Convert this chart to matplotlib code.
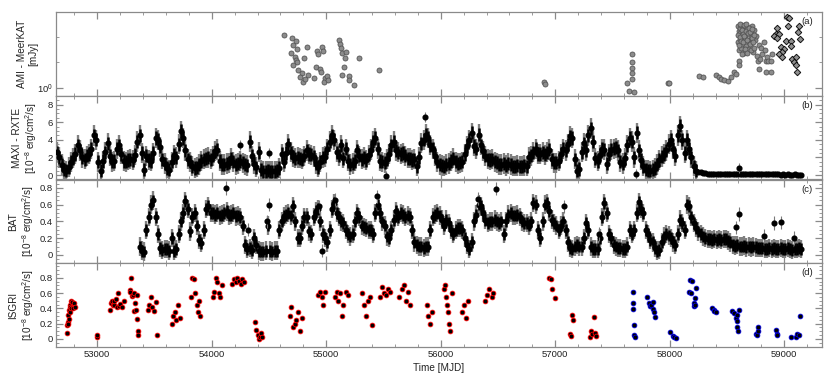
import numpy as np
import matplotlib
matplotlib.use('Agg')
import matplotlib.pyplot as plt
from matplotlib.ticker import MultipleLocator, FixedLocator, NullFormatter, FixedFormatter

plt.rcParams['font.family'] = ['Liberation Sans', 'DejaVu Sans']
plt.rcParams['mathtext.fontset'] = 'custom'
plt.rcParams['mathtext.rm'] = 'Liberation Sans'
plt.rcParams['mathtext.it'] = 'Liberation Sans:italic'
plt.rcParams['mathtext.bf'] = 'Liberation Sans:bold'

# ---------------- data ----------------
# (a) AMI radio flux [mJy]
ami_t = [54631, 54700, 54733, 54707, 54741, 54694, 54727, 54735, 54741, 54712, 54756, 54785, 54770,
         54799, 54814, 54843, 54831, 54805, 54916, 54930, 54965, 54968, 54910, 54947, 54951, 54895,
         54988, 55008, 54980, 55017, 55112, 55119, 55125, 55134, 55171, 55160, 55151, 55137, 55198,
         55200, 55244, 55285, 55459, 56905, 56908,
         57628, 57642, 57674, 57674, 57674, 57674, 57671, 57691, 57982, 57997, 58259, 58288,
         58404, 58427, 58447, 58476, 58505, 58534, 58564, 58578, 58602, 58602,
         58595, 58600, 58603, 58606, 58610, 58614, 58618, 58622, 58626, 58630, 58635, 58640, 58645,
         58650, 58655, 58660, 58665, 58670, 58676, 58682, 58688, 58694, 58700, 58706, 58712, 58718,
         58724, 58730, 58736, 58742, 58750, 58760, 58770, 58776, 58780, 58790, 58800, 58810, 58820,
         58830, 58837, 58842, 58850, 58860, 58883, 58883, 58897,
         58598, 58604, 58612, 58616, 58624, 58628, 58633, 58638, 58643, 58648, 58652, 58658, 58663,
         58668, 58673, 58679, 58685, 58691, 58697, 58703, 58709, 58715, 58721, 58727, 58733, 58739]
ami_v = [4.25, 3.88, 3.61, 3.25, 2.89, 2.60, 2.31, 2.15, 2.02, 1.85, 1.62, 1.48, 1.35,
         1.18, 1.26, 1.42, 3.03, 2.25, 2.77, 2.53, 3.03, 2.77, 1.77, 1.69, 1.52, 1.32,
         1.30, 1.38, 1.18, 1.24, 3.68, 3.31, 2.97, 2.60, 2.64, 2.25, 1.77, 1.42, 1.38,
         1.24, 1.08, 2.25, 1.62, 1.17, 1.10,
         1.13, 0.91, 2.53, 2.02, 1.72, 1.48, 1.27, 0.88, 1.13, 1.13, 1.38, 1.33,
         1.43, 1.35, 1.26, 1.24, 1.21, 1.33, 1.55, 1.45, 2.10, 1.85,
         3.5, 5.5, 4.8, 2.8, 5.2, 3.8, 4.5, 3.0, 5.6, 4.2, 3.3, 5.0, 4.6,
         2.6, 5.4, 3.9, 4.4, 3.1, 5.3, 4.7, 3.6, 2.9, 5.1, 4.0, 3.4, 5.5,
         4.3, 2.7, 4.9, 3.7, 4.1, 2.4, 2.1, 1.69, 3.2, 2.2, 3.0, 2.5, 3.5,
         2.8, 1.55, 2.1, 2.3, 2.1, 2.1, 1.55, 2.53,
         4.2, 3.2, 4.0, 5.8, 3.6, 4.9, 2.5, 4.4, 3.5, 5.6, 4.1, 2.9, 4.8,
         5.7, 3.7, 2.6, 4.5, 5.2, 3.3, 4.6, 2.8, 3.9, 5.0, 3.5, 4.2, 3.0]
# (a) MeerKAT radio flux [mJy]
mkat_t = [59028, 59043, 59037, 58941, 58927, 58956, 58912, 58941, 59014, 59058, 58971, 59000, 58985,
          58956, 58979, 59072, 59101, 59087, 59101, 59116, 59130, 59124, 59137, 59058]
mkat_v = [7.05, 6.75, 5.40, 5.17, 4.33, 4.33, 4.13, 3.89, 3.61, 3.61, 3.02, 2.89, 2.64,
          2.53, 2.31, 2.21, 2.31, 2.02, 1.85, 1.55, 5.40, 4.65, 3.78, 3.16]

# (b) MAXI / RXTE flux [1e-8 erg/cm2/s], 20-day bins from MJD 52650
maxi_start = 52650
maxi_step = 20
maxi_flux = [2.6, 2.0, 1.2, 0.6, 0.5, 0.9, 1.5, 1.9, 2.4, 3.4,
             2.8, 2.0, 1.8, 2.2, 2.4, 3.0, 4.5, 4.0, 1.5, 0.5,
             1.6, 2.6, 3.6, 2.2, 1.5, 1.6, 3.0, 3.4, 2.4, 1.6,
             1.5, 1.7, 1.8, 1.7, 2.3, 3.8, 4.5, 2.5, 0.6, 2.2,
             1.7, 1.6, 2.5, 4.2, 4.0, 3.2, 1.8, 1.3, 0.8, 0.6,
             1.5, 2.3, 2.0, 3.5, 5.0, 4.2, 2.8, 1.8, 1.5, 1.0,
             0.8, 0.9, 1.2, 1.6, 1.8, 1.9, 2.0, 1.8, 2.2, 2.7,
             2.9, 1.6, 1.2, 1.2, 1.3, 1.4, 1.9, 1.5, 1.2, 1.3,
             1.6, 1.4, 1.2, 1.1, 3.8, 2.2, 1.3, 0.9, 2.6, 0.6,
             0.45, 0.45, 0.5, 0.45, 0.45, 0.45, 0.5, 0.8, 2.4, 1.5,
             2.5, 3.5, 2.6, 2.1, 1.9, 2.0, 1.9, 1.8, 2.2, 2.8,
             2.4, 2.3, 2.1, 1.3, 0.9, 1.5, 2.0, 2.1, 3.0, 3.8,
             4.5, 4.0, 2.6, 2.2, 3.4, 1.9, 3.0, 1.6, 1.2, 1.3,
             1.6, 2.8, 2.2, 1.8, 2.0, 1.7, 2.3, 2.9, 3.8, 4.2,
             3.0, 1.6, 1.5, 1.4, 1.8, 2.4, 3.4, 3.8, 2.8, 2.6,
             2.4, 2.5, 2.2, 1.9, 1.9, 1.7, 1.8, 1.0, 2.0, 3.6,
             4.0, 4.6, 4.2, 3.4, 3.0, 2.2, 1.5, 1.2, 1.1, 1.0,
             1.2, 1.3, 1.6, 1.9, 1.5, 1.3, 1.4, 1.5, 2.4, 3.3,
             4.0, 4.8, 3.3, 3.0, 4.6, 3.4, 2.7, 2.2, 1.8, 1.7,
             1.8, 1.5, 1.4, 1.2, 1.2, 1.3, 1.1, 1.3, 1.2, 1.0,
             1.0, 1.1, 1.0, 1.0, 1.1, 1.0, 2.0, 2.2, 2.6, 3.0,
             2.4, 2.4, 2.6, 2.3, 2.6, 2.9, 1.8, 1.4, 1.4, 1.6,
             2.4, 3.0, 2.8, 3.5, 4.4, 4.2, 1.8, 0.5, 0.7, 2.6,
             3.6, 2.8, 4.5, 5.3, 3.8, 1.9, 1.6, 2.3, 3.0, 2.9,
             1.3, 2.4, 2.9, 3.0, 3.1, 2.8, 1.5, 1.3, 1.9, 3.4,
             4.2, 3.8, 2.0, 4.8, 2.8, 1.7, 1.0, 0.6, 0.55, 0.5,
             0.6, 0.8, 1.2, 1.7, 2.1, 2.4, 2.8, 3.5, 4.0, 3.0,
             2.2, 4.5, 5.6, 4.0, 2.5, 4.0, 3.0, 2.0, 1.0, 0.5]
maxi_scatter = 0.75   # half-width of the dense point band
maxi_err = 1.15       # typical error bar
# faint tail (MAXI), 20-day bins from MJD 58250
tail_start = 58250
tail_flux = [0.35, 0.3, 0.25, 0.2, 0.15, 0.15, 0.14, 0.13, 0.13, 0.12,
             0.12, 0.12, 0.11, 0.12, 0.11, 0.1, 0.11, 0.1, 0.1, 0.1,
             0.1, 0.09, 0.1, 0.09, 0.09, 0.08, 0.09, 0.08, 0.08, 0.08,
             0.08, 0.07, 0.08, 0.07, 0.07, 0.07, 0.06, 0.07, 0.06, 0.07,
             0.06, 0.06, 0.07, 0.06, 0.05, 0.06]
tail_err = 0.05
maxi_out_t = [54250, 54497, 55523, 55866, 57706, 58607]
maxi_out_v = [3.4, 2.5, -0.1, 6.6, 0.1, 0.8]

# (c) BAT flux, 20-day bins from MJD 53370
bat_start = 53370
bat_step = 20
bat_flux = [0.1, 0.05, 0.04, 0.3, 0.45, 0.6, 0.65, 0.45, 0.25, 0.08,
            0.06, 0.07, 0.07, 0.05, 0.2, 0.05, 0.07, 0.25, 0.4, 0.5,
            0.64, 0.55, 0.28, 0.45, 0.5, 0.35, 0.18, 0.14, 0.3, 0.55,
            0.58, 0.5, 0.5, 0.48, 0.5, 0.47, 0.48, 0.5, 0.52, 0.47,
            0.48, 0.5, 0.46, 0.47, 0.45, 0.35, 0.12, 0.07, 0.08, 0.06,
            0.2, 0.12, 0.05, 0.04, 0.04, 0.05, 0.35, 0.05, 0.04, 0.05,
            0.05, 0.3, 0.4, 0.46, 0.48, 0.5, 0.47, 0.58, 0.4, 0.2,
            0.2, 0.35, 0.45, 0.45, 0.28, 0.25, 0.45, 0.52, 0.55, 0.4,
            0.25, 0.2, 0.15, 0.3, 0.55, 0.62, 0.5, 0.45, 0.4, 0.38,
            0.3, 0.25, 0.22, 0.25, 0.4, 0.5, 0.45, 0.35, 0.33, 0.32,
            0.3, 0.3, 0.25, 0.5, 0.6, 0.5, 0.4, 0.35, 0.22, 0.2,
            0.3, 0.42, 0.52, 0.45, 0.5, 0.48, 0.45, 0.47, 0.45, 0.3,
            0.15, 0.12, 0.1, 0.1, 0.08, 0.1, 0.1, 0.3, 0.45, 0.48,
            0.5, 0.47, 0.42, 0.35, 0.42, 0.38, 0.3, 0.25, 0.3, 0.32,
            0.32, 0.3, 0.2, 0.12, 0.07, 0.15, 0.4, 0.48, 0.6, 0.58,
            0.5, 0.42, 0.38, 0.4, 0.4, 0.42, 0.4, 0.38, 0.4, 0.25,
            0.4, 0.48, 0.5, 0.47, 0.47, 0.48, 0.45, 0.4, 0.38, 0.38,
            0.35, 0.4, 0.62, 0.6, 0.3, 0.2, 0.4, 0.6, 0.62, 0.52,
            0.42, 0.38, 0.35, 0.3, 0.35, 0.4, 0.3, 0.15, 0.08, 0.07,
            0.1, 0.12, 0.1, 0.1, 0.2, 0.38, 0.3, 0.1, 0.07, 0.07,
            0.07, 0.2, 0.45, 0.62, 0.5, 0.25, 0.2, 0.12, 0.1, 0.08,
            0.08, 0.07, 0.07, 0.1, 0.3, 0.25, 0.3, 0.5, 0.63, 0.55,
            0.5, 0.3, 0.25, 0.18, 0.15, 0.08, 0.05, 0.06, 0.15, 0.22,
            0.25, 0.23, 0.2, 0.15, 0.12, 0.25, 0.42, 0.38, 0.3, 0.6,
            0.58, 0.45, 0.38, 0.32, 0.28, 0.25, 0.22, 0.2, 0.19, 0.19,
            0.18, 0.19, 0.18, 0.19, 0.18, 0.19, 0.19, 0.17, 0.15, 0.12,
            0.11, 0.12, 0.1, 0.1, 0.11, 0.09, 0.1, 0.09, 0.1, 0.09,
            0.08, 0.08, 0.08, 0.07, 0.07, 0.08, 0.07, 0.08, 0.07, 0.07,
            0.08, 0.07, 0.07, 0.08, 0.07, 0.06, 0.07, 0.07, 0.08, 0.07]
bat_scatter = 0.07
bat_err = 0.11
bat_out_t = [54125, 54317, 54486, 54500, 54936, 54965, 55079, 55445, 56325, 56479, 57081,
             57385, 58578, 58607, 58825, 58910, 58971, 59087]
bat_out_v = [0.8, 0.3, 0.4, 0.6, 0.58, 0.05, 0.66, 0.7, 0.67, 0.79, 0.58,
             0.25, 0.33, 0.49, 0.23, 0.38, 0.39, 0.2]

# (d) ISGRI flux, before (red) and after (blue) MJD 57500
isgri_red_t = [52736, 52740, 52742, 52745, 52748, 52752, 52755, 52758, 52762, 52766, 52770, 52775,
               52780, 52790, 52800, 52806, 52994, 52998,
               53110, 53120, 53128, 53135, 53145, 53150, 53160, 53170, 53180, 53190, 53200, 53215, 53230,
               53282, 53290, 53294, 53300, 53310, 53317, 53320, 53331, 53340, 53346, 53351, 53355, 53360,
               53440, 53455, 53470, 53480, 53495, 53510, 53525,
               53650, 53665, 53680, 53690, 53705, 53720,
               53820, 53832, 53845, 53858, 53870, 53880, 53890, 53900,
               54010, 54022, 54035, 54048, 54060, 54075, 54090,
               54180, 54195, 54210, 54225, 54240, 54255, 54268, 54280,
               54380, 54390, 54400, 54410, 54420, 54430, 54440,
               54680, 54695, 54710, 54725, 54740, 54755, 54770, 54790,
               54930, 54945, 54960, 54975, 54990,
               55075, 55090, 55105, 55120, 55135, 55150, 55170, 55190,
               55310, 55330, 55350, 55365, 55380, 55400,
               55470, 55487, 55503, 55520, 55537, 55555,
               55640, 55658, 55676, 55694, 55712, 55730,
               55880, 55893, 55906, 55920,
               56025, 56035, 56045, 56055, 56065, 56075, 56085, 56095,
               56190, 56205, 56220, 56235,
               56385, 56405, 56425, 56445, 56460,
               56950, 56960, 56975, 56995,
               57125, 57135, 57143, 57151,
               57300, 57312, 57325, 57343, 57350, 57360]
isgri_red_v = [0.08, 0.18, 0.22, 0.20, 0.31, 0.26, 0.38, 0.35, 0.45, 0.42, 0.50, 0.41,
               0.48, 0.40, 0.47, 0.42, 0.03, 0.05,
               0.38, 0.47, 0.49, 0.45, 0.44, 0.50, 0.52, 0.42, 0.60, 0.43, 0.46, 0.42, 0.50,
               0.64, 0.62, 0.80, 0.56, 0.57, 0.36, 0.60, 0.47, 0.38, 0.57, 0.26, 0.10, 0.05,
               0.38, 0.45, 0.55, 0.42, 0.36, 0.48, 0.05,
               0.20, 0.30, 0.35, 0.25, 0.45, 0.28,
               0.55, 0.80, 0.78, 0.60, 0.45, 0.35, 0.50, 0.30,
               0.55, 0.62, 0.80, 0.75, 0.60, 0.55, 0.70,
               0.72, 0.78, 0.75, 0.80, 0.76, 0.72, 0.78, 0.74,
               0.22, 0.12, 0.05, 0.00, 0.03, 0.08, 0.02,
               0.30, 0.42, 0.15, 0.20, 0.25, 0.35, 0.10, 0.28,
               0.58, 0.62, 0.55, 0.45, 0.62,
               0.55, 0.62, 0.50, 0.60, 0.30, 0.45, 0.62, 0.58,
               0.60, 0.45, 0.30, 0.50, 0.55, 0.18,
               0.55, 0.68, 0.60, 0.58, 0.65, 0.62,
               0.55, 0.65, 0.70, 0.50, 0.62, 0.45,
               0.45, 0.30, 0.20, 0.35,
               0.65, 0.70, 0.55, 0.45, 0.35, 0.20, 0.10, 0.60,
               0.35, 0.45, 0.28, 0.50,
               0.50, 0.58, 0.65, 0.55, 0.60,
               0.80, 0.78, 0.65, 0.54,
               0.07, 0.04, 0.31, 0.25,
               0.03, 0.10, 0.06, 0.29, 0.08, 0.04]
isgri_blue_t = [57677, 57683, 57683, 57689, 57692, 57700,
                57799, 57823, 57829, 57837, 57852, 57858, 57866, 57875,
                58003, 58026, 58040, 58055,
                58172, 58177, 58186, 58194, 58208, 58215, 58220, 58223, 58229,
                58369, 58384, 58390, 58404,
                58543, 58564, 58578, 58584, 58584, 58587, 58596, 58602,
                58753, 58759, 58767, 58775,
                58927, 58933, 58941,
                59058, 59101, 59116, 59130, 59137]
isgri_blue_v = [0.62, 0.47, 0.39, 0.18, 0.05, 0.03,
                0.55, 0.47, 0.43, 0.44, 0.48, 0.39, 0.35, 0.29,
                0.09, 0.04, 0.02, 0.01,
                0.62, 0.77, 0.60, 0.76, 0.47, 0.43, 0.53, 0.45, 0.67,
                0.40, 0.38, 0.36, 0.35,
                0.36, 0.34, 0.27, 0.31, 0.23, 0.16, 0.11, 0.38,
                0.07, 0.05, 0.11, 0.15,
                0.12, 0.07, 0.05,
                0.03, 0.03, 0.06, 0.05, 0.30]

panel_tags = ['(a)', '(b)', '(c)', '(d)']
ylabels = ['AMI - MeerKAT\n[mJy]',
           'MAXI - RXTE\n[10$^{-8}$ erg/cm$^{2}$/s]',
           'BAT\n[10$^{-8}$ erg/cm$^{2}$/s]',
           'ISGRI\n[10$^{-8}$ erg/cm$^{2}$/s]']

# ---------------- figure ----------------
fig = plt.figure(figsize=(8.3, 3.81), dpi=100)
L = 56 / 830
W = (822 - 56) / 830
TOP = 1 - 12 / 381
H = 83.75 / 381
axes = [fig.add_axes([L, TOP - (i + 1) * H, W, H]) for i in range(4)]

SPC = '#8a8a8a'
for i, ax in enumerate(axes):
    for s in ax.spines.values():
        s.set_color(SPC)
        s.set_linewidth(0.9)
    ax.tick_params(which='both', direction='in', top=True, right=True, color=SPC,
                   labelsize=6.8, pad=2, labelcolor='#222222')
    ax.tick_params(which='major', length=5, width=0.9)
    ax.tick_params(which='minor', length=2.5, width=0.6)
    ax.set_xlim(52640, 59330)
    ax.xaxis.set_major_locator(MultipleLocator(1000))
    ax.xaxis.set_minor_locator(MultipleLocator(200))
    if i < 3:
        ax.tick_params(labelbottom=False)
    ax.text(0.988, 0.94, panel_tags[i], transform=ax.transAxes, ha='right', va='top',
            fontsize=6.8, color='#222222')
    ax.set_ylabel(ylabels[i], fontsize=7.2, linespacing=1.15, color='#222222')


def dense(ax, t, v, err, band, ms=3.4):
    # error bars (grey), dense point band (black) and markers
    ax.errorbar(t, v, yerr=err, fmt='none', ecolor='#808080', elinewidth=1.7, capsize=0, zorder=1)
    ax.errorbar(t, v, yerr=band, fmt='none', ecolor='#000000', elinewidth=1.8, capsize=0, zorder=2)
    ax.plot(t, v, 'o', ms=ms, color='k', zorder=3)


# (a)
ax = axes[0]
ax.set_yscale('log')
ax.plot(ami_t, ami_v, 'o', ms=3.6, mfc='#8c8c8c', mec='#555555', mew=0.6, zorder=2)
ax.plot(mkat_t, mkat_v, 'D', ms=3.3, mfc='#909090', mec='#111111', mew=0.7, zorder=3)
ax.set_ylim(0.8, 8.0)
ax.yaxis.set_major_locator(FixedLocator([1.0]))
ax.yaxis.set_major_formatter(FixedFormatter(['10$^{0}$']))
ax.yaxis.set_minor_locator(FixedLocator([2.0, 4.0]))
ax.yaxis.set_minor_formatter(NullFormatter())
ax.yaxis.set_label_coords(-0.023, 0.5)

# (b)
ax = axes[1]
mt = maxi_start + maxi_step * np.arange(len(maxi_flux))
tt = tail_start + maxi_step * np.arange(len(tail_flux))
dense(ax, mt, maxi_flux, maxi_err, maxi_scatter)
dense(ax, tt, tail_flux, tail_err, tail_err)
ax.errorbar(maxi_out_t, maxi_out_v, yerr=0.6, fmt='o', ms=3.4, color='k', ecolor='#7a7a7a',
            elinewidth=0.8, capsize=0, zorder=3)
ax.set_ylim(-0.5, 9.0)
ax.yaxis.set_major_locator(MultipleLocator(2))
ax.yaxis.set_minor_locator(MultipleLocator(0.5))
ax.yaxis.set_label_coords(-0.022, 0.5)

# (c)
ax = axes[2]
bt = bat_start + bat_step * np.arange(len(bat_flux))
dense(ax, bt, bat_flux, bat_err, bat_scatter)
ax.errorbar(bat_out_t, bat_out_v, yerr=0.08, fmt='o', ms=3.4, color='k', ecolor='#7a7a7a',
            elinewidth=0.8, capsize=0, zorder=3)
ax.set_ylim(-0.1, 0.9)
ax.yaxis.set_major_locator(MultipleLocator(0.2))
ax.yaxis.set_minor_locator(MultipleLocator(0.05))
ax.yaxis.set_major_formatter(plt.FuncFormatter(lambda v, p: '0' if abs(v) < 1e-9 else f'{v:.1f}'))
ax.yaxis.set_label_coords(-0.026, 0.5)

# (d)
ax = axes[3]
ax.plot(isgri_red_t, isgri_red_v, 'o', ms=3.4, mfc='k', mec='#ff0000', mew=0.6)
ax.plot(isgri_blue_t, isgri_blue_v, 'o', ms=3.4, mfc='k', mec='#0000dd', mew=0.6)
ax.set_ylim(-0.105, 0.99)
ax.yaxis.set_major_locator(MultipleLocator(0.2))
ax.yaxis.set_minor_locator(MultipleLocator(0.05))
ax.yaxis.set_major_formatter(plt.FuncFormatter(lambda v, p: '0' if abs(v) < 1e-9 else f'{v:.1f}'))
ax.yaxis.set_label_coords(-0.026, 0.5)
ax.set_xlabel('Time [MJD]', fontsize=7.2, color='#222222', labelpad=3)

fig.savefig('out.png', dpi=100)
